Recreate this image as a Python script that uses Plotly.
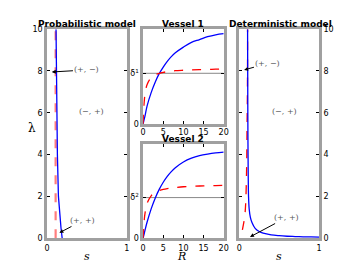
import plotly.graph_objects as go

# ---- data ----
# Probabilistic model (left)
prob_blue_s = [0.113, 0.117, 0.122, 0.130, 0.143, 0.160, 0.175, 0.190]
prob_blue_lam = [10, 8, 6, 4, 2, 1, 0.5, 0]
prob_red_s = [0.108, 0.108]
prob_red_lam = [0, 10]

# Vessels (middle)
R = [0, 0.25, 0.5, 1, 2, 3, 4, 5, 6, 7, 8, 10, 12, 14, 16, 18, 20]
v1_blue = [0, 0.045, 0.09, 0.19, 0.33, 0.44, 0.53, 0.60, 0.66, 0.71, 0.75, 0.81, 0.86, 0.89, 0.92, 0.94, 0.952]
v1_red = [0, 0.22, 0.32, 0.415, 0.488, 0.518, 0.534, 0.544, 0.551, 0.556, 0.561, 0.566, 0.570, 0.573, 0.575, 0.577, 0.578]
v1_delta = 0.534
v2_blue = [0, 0.045, 0.09, 0.172, 0.312, 0.426, 0.519, 0.595, 0.657, 0.708, 0.749, 0.810, 0.851, 0.878, 0.895, 0.907, 0.915]
v2_red = [0, 0.179, 0.273, 0.371, 0.451, 0.487, 0.506, 0.519, 0.528, 0.534, 0.539, 0.547, 0.551, 0.555, 0.558, 0.560, 0.561]
v2_delta = 0.432

# Deterministic model (right)
det_blue_s = [0.105, 0.108, 0.110, 0.113, 0.117, 0.125, 0.140, 0.160, 0.200, 0.250, 0.300, 0.400, 0.500, 0.600, 0.700, 0.800, 0.900, 1.000]
det_blue_lam = [10, 6, 4.5, 3, 2, 1.4, 1.0, 0.75, 0.47, 0.32, 0.24, 0.16, 0.12, 0.095, 0.08, 0.068, 0.06, 0.052]
det_red_s = [0.040, 0.055, 0.069, 0.081, 0.093, 0.098, 0.103, 0.105]
det_red_lam = [0.4, 0.7, 1.03, 1.65, 3.35, 5.2, 7.0, 10]

lam_ticks = [0, 2, 4, 6, 8, 10]
s_ticks = [0, 1]
R_ticks = [0, 5, 10, 15, 20]

BLUE = "#0000ff"
RED = "#ff0000"
FRAME = "#a0a0a0"
TXT = "#555555"

fig = go.Figure()

fig.add_trace(go.Scatter(x=prob_red_s, y=prob_red_lam, mode="lines",
                         line=dict(color="rgba(255,40,40,0.6)", width=2.2, dash="dash"),
                         xaxis="x", yaxis="y", showlegend=False))
fig.add_trace(go.Scatter(x=prob_blue_s, y=prob_blue_lam, mode="lines",
                         line=dict(color=BLUE, width=1.3), xaxis="x", yaxis="y", showlegend=False))

fig.add_trace(go.Scatter(x=[R[0], R[-1]], y=[v1_delta, v1_delta], mode="lines",
                         line=dict(color="#888888", width=1), xaxis="x2", yaxis="y2", showlegend=False))
fig.add_trace(go.Scatter(x=R, y=v1_blue, mode="lines", line=dict(color=BLUE, width=1.3, shape="spline"),
                         xaxis="x2", yaxis="y2", showlegend=False))
fig.add_trace(go.Scatter(x=R, y=v1_red, mode="lines", line=dict(color=RED, width=1.3, dash="dash", shape="spline"),
                         xaxis="x2", yaxis="y2", showlegend=False))

fig.add_trace(go.Scatter(x=[R[0], R[-1]], y=[v2_delta, v2_delta], mode="lines",
                         line=dict(color="#888888", width=1), xaxis="x3", yaxis="y3", showlegend=False))
fig.add_trace(go.Scatter(x=R, y=v2_blue, mode="lines", line=dict(color=BLUE, width=1.3, shape="spline"),
                         xaxis="x3", yaxis="y3", showlegend=False))
fig.add_trace(go.Scatter(x=R, y=v2_red, mode="lines", line=dict(color=RED, width=1.3, dash="dash", shape="spline"),
                         xaxis="x3", yaxis="y3", showlegend=False))

fig.add_trace(go.Scatter(x=det_red_s, y=det_red_lam, mode="lines",
                         line=dict(color=RED, width=1.3, dash="dash", shape="spline"),
                         xaxis="x4", yaxis="y4", showlegend=False))
fig.add_trace(go.Scatter(x=det_blue_s, y=det_blue_lam, mode="lines",
                         line=dict(color=BLUE, width=1.3, shape="spline"),
                         xaxis="x4", yaxis="y4", showlegend=False))

tickfont = dict(family="DejaVu Sans", size=8, color="black")
common = dict(showline=True, linecolor=FRAME, linewidth=2.5, mirror="ticks",
              ticks="inside", ticklen=3, tickcolor="black", tickwidth=1,
              showgrid=False, zeroline=False, tickfont=tickfont)

fig.update_layout(
    width=360, height=270, margin=dict(l=0, r=0, t=0, b=0),
    paper_bgcolor="white", plot_bgcolor="white",
    xaxis=dict(domain=[0.125, 0.352], range=[0, 1], tickvals=s_ticks, anchor="y", **common),
    yaxis=dict(domain=[0.1026, 0.9037], range=[0, 10], tickvals=lam_ticks, anchor="x", **common),
    xaxis2=dict(domain=[0.398, 0.627], range=[0, 20], tickvals=R_ticks, anchor="y2",
                ticklabelstandoff=-1, **common),
    yaxis2=dict(domain=[0.5407, 0.9037], range=[0, 1], tickvals=[0, v1_delta],
                ticktext=["0", "δ<sup>1</sup>"], anchor="x2", **common),
    xaxis3=dict(domain=[0.398, 0.627], range=[0, 20], tickvals=R_ticks, anchor="y3", **common),
    yaxis3=dict(domain=[0.1026, 0.463], range=[0, 1], tickvals=[0, v2_delta],
                ticktext=["0", "δ<sup>2</sup>"], anchor="x3", **common),
    xaxis4=dict(domain=[0.671, 0.898], range=[0, 1], tickvals=s_ticks, anchor="y4", **common),
    yaxis4=dict(domain=[0.1026, 0.9037], range=[0, 10], tickvals=lam_ticks, anchor="x4", side="right", **common),
)

anns = []
titlefont = dict(family="DejaVu Sans", size=9, color="black")
for txt, x, y in [("<b>Probabilistic model</b>", 0.239, 0.923), ("<b>Vessel 1</b>", 0.512, 0.923),
                  ("<b>Vessel 2</b>", 0.512, 0.482), ("<b>Deterministic model</b>", 0.787, 0.923)]:
    anns.append(dict(text=txt, x=x, y=y, xref="paper", yref="paper", showarrow=False,
                     font=titlefont, xanchor="center", yanchor="middle"))

for txt, x, y, sz in [("λ", 0.083, 0.526, 12), ("<i>s</i>", 0.239, 0.033, 11),
                      ("<i>R</i>", 0.508, 0.034, 11), ("<i>s</i>", 0.785, 0.033, 11)]:
    anns.append(dict(text=txt, x=x, y=y, xref="paper", yref="paper", showarrow=False,
                     font=dict(family="DejaVu Serif", size=sz, color="black"),
                     xanchor="center", yanchor="middle"))

regfont = dict(family="DejaVu Serif", size=8, color=TXT)
# left panel region labels
anns.append(dict(text="(+, −)", x=0.06, y=7.95, ax=0.5, ay=8.05, xref="x", yref="y", axref="x", ayref="y",
                 showarrow=True, arrowhead=2, arrowsize=0.8, arrowwidth=1, arrowcolor="black", font=regfont))
anns.append(dict(text="(−, +)", x=0.56, y=6.05, xref="x", yref="y", showarrow=False, font=regfont))
anns.append(dict(text="(+, +)", x=0.155, y=0.26, ax=0.45, ay=0.85, xref="x", yref="y", axref="x", ayref="y",
                 showarrow=True, arrowhead=2, arrowsize=0.8, arrowwidth=1, arrowcolor="black", font=regfont))
# right panel region labels
anns.append(dict(text="(+, −)", x=0.061, y=8.05, ax=0.36, ay=8.36, xref="x4", yref="y4", axref="x4", ayref="y4",
                 showarrow=True, arrowhead=2, arrowsize=0.8, arrowwidth=1, arrowcolor="black", font=regfont))
anns.append(dict(text="(−, +)", x=0.57, y=6.05, xref="x4", yref="y4", showarrow=False, font=regfont))
anns.append(dict(text="(+, +)", x=0.135, y=0.06, ax=0.59, ay=0.99, xref="x4", yref="y4", axref="x4", ayref="y4",
                 showarrow=True, arrowhead=2, arrowsize=0.8, arrowwidth=1, arrowcolor="black", font=regfont))

fig.update_layout(annotations=anns)
fig.write_html("out.html", config={"displayModeBar": False},
               post_script="document.body.style.margin='0px';")
